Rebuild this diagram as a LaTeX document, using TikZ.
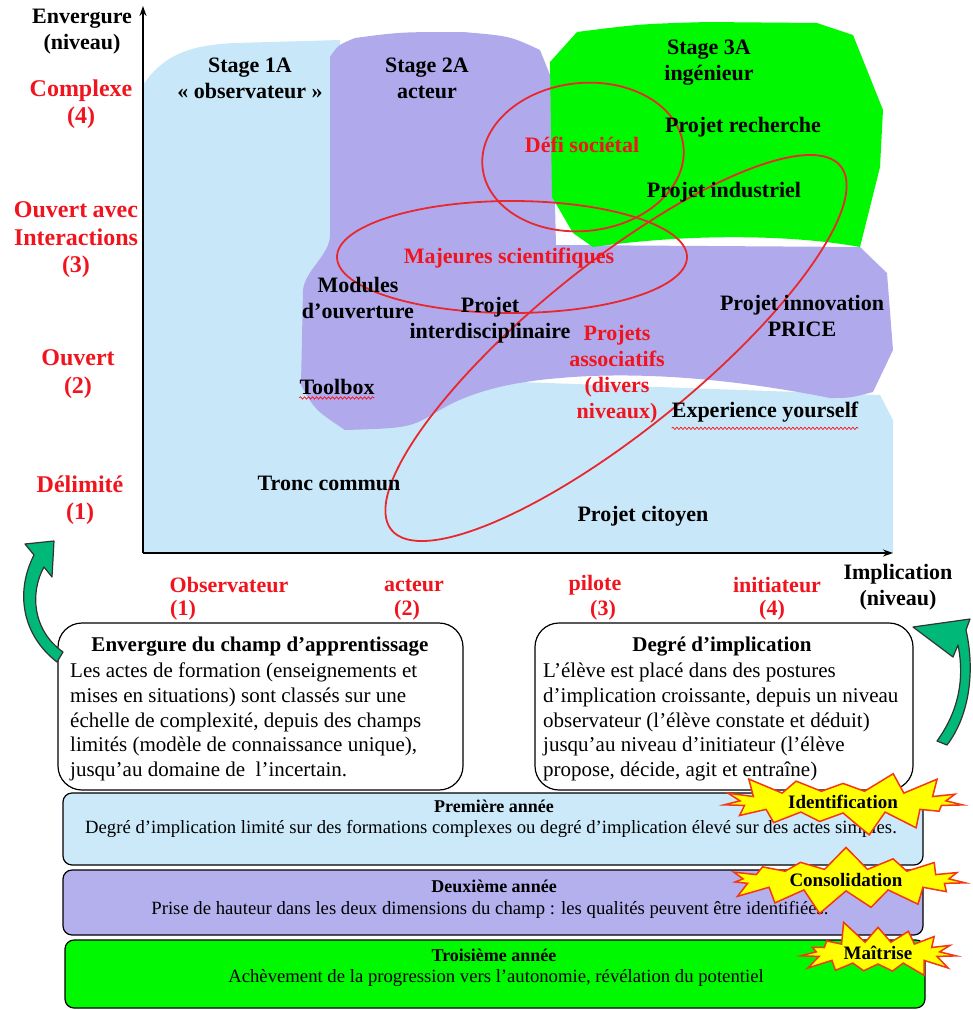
\documentclass[tikz,border=0pt]{standalone}
\usepackage{fontspec}
\setmainfont{Liberation Serif}
\usetikzlibrary{arrows.meta,shapes.symbols,decorations.pathmorphing}

\definecolor{zoneblue}{RGB}{200,232,250}
\definecolor{zonepurple}{RGB}{176,170,236}
\definecolor{zonegreen}{RGB}{0,248,0}
\definecolor{barblue}{RGB}{204,233,250}
\definecolor{barpurple}{RGB}{180,176,238}
\definecolor{labelred}{RGB}{240,20,30}
\definecolor{ringred}{RGB}{232,40,45}
\definecolor{arrowgreen}{RGB}{0,184,120}
\definecolor{burstyellow}{RGB}{255,255,0}
\definecolor{burstred}{RGB}{245,55,20}

\begin{document}
\begin{tikzpicture}[x=1pt,y=-1pt,
  lbl/.style={font=\fontsize{22}{26}\selectfont\bfseries, align=center, inner sep=0pt},
  redlbl/.style={lbl, text=labelred},
  ylbl/.style={redlbl, font=\fontsize{24}{27.5}\selectfont\bfseries},
  ring/.style={draw=ringred, line width=1.8pt},
  axis/.style={line width=1.5pt, -{Stealth[length=10pt,width=7pt]}},
  infobox/.style={draw=black, line width=1.2pt, rounded corners=24pt, fill=white, inner sep=0pt},
  boxtitle/.style={font=\fontsize{21}{24.5}\selectfont\bfseries, inner sep=0pt},
  boxtext/.style={font=\fontsize{21}{24.7}\selectfont, align=left, inner sep=0pt},
  yearbar/.style={draw=black, line width=1.2pt, rounded corners=9pt, inner sep=0pt},
  bartitle/.style={font=\fontsize{18}{22}\selectfont\bfseries, inner sep=0pt},
  bartext/.style={font=\fontsize{18.7}{22}\selectfont, inner sep=0pt},
  burst/.style={starburst, fill=burstyellow, draw=burstred, line width=1.5pt,
    starburst points=15, starburst point height=24pt, inner sep=1pt,
    font=\fontsize{19}{22}\selectfont\bfseries},
  spell/.style={draw=red, line width=0.6pt, decorate,
    decoration={snake, amplitude=1.2pt, segment length=4pt}},
  bigarrow/.style={fill=arrowgreen, draw=black!80, line width=1.2pt, line join=round}
]
\useasboundingbox (0,0) rectangle (973,1010);

% ---- zones of the learning field ----
\fill[zoneblue] (143,553) -- (143,85) .. controls (165,52) and (195,45) .. (235,43)
  -- (340,40) -- (340,420) -- (520,382) -- (880,395) -- (893,420) -- (893,553) -- cycle;
\fill[zonepurple] (330,57) .. controls (338,45) .. (355,38)
  .. controls (400,32) .. (463,32) .. controls (510,36) .. (540,50)
  -- (552,80) -- (556,245) -- (860,247) -- (887,273) -- (893,350) -- (873,392)
  .. controls (850,398) .. (830,398) .. controls (750,382) and (650,370) .. (560,378)
  .. controls (510,382) and (470,392) .. (440,410) .. controls (410,428) .. (345,430)
  .. controls (315,410) .. (301,385) -- (303,290) .. controls (305,270) and (330,255) .. (330,235)
  -- cycle;
\fill[zonegreen] (550,62) -- (577,32) .. controls (640,24) .. (707,22) -- (817,23)
  -- (853,35) -- (883,110) -- (880,167) -- (860,247)
  .. controls (800,236) and (700,232) .. (593,247) -- (573,233) -- (552,197) -- cycle;

% ---- groupings ----
\draw[ring, rotate around={6:(583,157)}] (583,157) ellipse [x radius=101, y radius=74];
\draw[ring] (512,257) ellipse [x radius=175, y radius=56];
\draw[ring, rotate around={39:(616,348)}] (616,348) ellipse [x radius=289, y radius=83];

% ---- axes ----
\coordinate (origin) at (143,553);
\coordinate (ytip) at (143,6);
\coordinate (xtip) at (893,553);
\draw[axis] (origin) -- (ytip);
\draw[axis] (origin) -- (xtip);

% ---- vertical scale ----
\node[lbl] (yname) at (82,32) {Envergure\\(niveau)};
\node[ylbl] (y4) at (81,104) {Complexe\\(4)};
\node[ylbl] (y3) at (76,240) {\makebox[5.17em][s]{Ouvert\hfill avec}\\Interactions\\(3)};
\node[ylbl] (y2) at (78,374) {Ouvert\\(2)};
\node[ylbl] (y1) at (80,500) {Délimité\\(1)};

% ---- horizontal scale ----
\node[redlbl] (x1a) at (229,585) {Observateur};
\node[redlbl] (x1b) at (183,610) {(1)};
\node[redlbl] (x2a) at (414,585) {acteur};
\node[redlbl] (x2b) at (407,610) {(2)};
\node[redlbl] (x3a) at (595,585) {pilote};
\node[redlbl] (x3b) at (603,610) {(3)};
\node[redlbl] (x4a) at (777,585) {initiateur};
\node[redlbl] (x4b) at (772,610) {(4)};
\node[lbl] (xname) at (898,587) {Implication\\(niveau)};

% ---- activities ----
\node[lbl] (stage1) at (250,78) {Stage 1A\\« observateur »};
\node[lbl] (stage2) at (427,78) {Stage 2A\\acteur};
\node[lbl] (stage3) at (709,63) {Stage 3A\\ingénieur};
\node[lbl] (precherche) at (743,127) {Projet recherche};
\node[lbl] (pindus) at (724,192) {Projet industriel};
\node[redlbl] (defi) at (582,145) {Défi sociétal};
\node[redlbl] (majeures) at (509,258) {Majeures scientifiques};
\node[lbl] (modules) at (358,298) {Modules\\d’ouverture};
\node[lbl] (pinter) at (490,320) {Projet\\interdisciplinaire};
\node[redlbl] (passo) at (617,374) {Projets\\associatifs\\(divers\\niveaux)};
\node[lbl] (pinno) at (802,316) {Projet innovation\\PRICE};
\node[lbl] (experience) at (765,412) {Experience yourself};
\node[lbl] (toolbox) at (337,387) {Toolbox};
\node[lbl] (tronc) at (329,483) {Tronc commun};
\node[lbl] (pcitoyen) at (643,516) {Projet citoyen};
\draw[spell] ([yshift=-3pt]toolbox.south west) -- ([yshift=-3pt]toolbox.south east);
\draw[spell] ([yshift=-6pt]experience.south west) -- ([yshift=-6pt]experience.south east);

% ---- explanation boxes ----
\node[infobox, minimum width=405pt, minimum height=167pt] (boxA) at (260.5,706.5) {};
\node[boxtitle] (boxAtitle) at (260,647) {Envergure du champ d’apprentissage};
\node[boxtext, anchor=west] (boxAtext) at (70,722) {Les actes de formation (enseignements et\\
mises en situations) sont classés sur une\\
échelle de complexité, depuis des champs\\
limités (modèle de connaissance unique),\\
jusqu’au domaine de\ \ l’incertain.};

\node[infobox, minimum width=378pt, minimum height=167pt] (boxB) at (724,706.5) {};
\node[boxtitle] (boxBtitle) at (722,647) {Degré d’implication};
\node[boxtext, anchor=west] (boxBtext) at (543,722) {L’élève est placé dans des postures\\
d’implication croissante, depuis un niveau\\
observateur (l’élève constate et déduit)\\
jusqu’au niveau d’initiateur (l’élève\\
propose, décide, agit et entraîne)};

% ---- curved arrows ----
\filldraw[bigarrow] (57,662) .. controls (22,635) and (15,592) .. (34,555) -- (25,544)
  -- (54,541) -- (52,577) -- (44,567) .. controls (30,592) and (32,630) .. (63,652) -- cycle;
\filldraw[bigarrow] (937,741) .. controls (958,712) and (965,680) .. (958,645) -- (953,657)
  -- (913,627) -- (970,619) -- (966,630) .. controls (975,670) and (970,715) .. (947,745) -- cycle;

% ---- yearly progression ----
\node[yearbar, fill=barblue, minimum width=860pt, minimum height=72pt] (bar1) at (493,829) {};
\node[bartitle] (bar1title) at (494,806) {Première année};
\node[bartext] (bar1text) at (491,829) {Degré d’implication limité sur des formations complexes ou degré d’implication élevé sur des actes simples.};

\node[yearbar, fill=barpurple, minimum width=860pt, minimum height=65pt] (bar2) at (493,902.5) {};
\node[bartitle] (bar2title) at (494,886) {Deuxième année};
\node[bartext] (bar2text) at (490,910) {Prise de hauteur dans les deux dimensions du champ : les qualités peuvent être identifiées.};

\node[yearbar, fill=zonegreen, minimum width=860pt, minimum height=68pt] (bar3) at (495,974) {};
\node[bartitle] (bar3title) at (494,955) {Troisième année};
\node[bartext] (bar3text) at (496,978) {Achèvement de la progression vers l’autonomie, révélation du potentiel};

% ---- milestones ----
\node[burst, random starburst=3, minimum width=255pt, minimum height=66pt] (ident) at (843,802) {Identification};
\node[burst, random starburst=7, minimum width=255pt, minimum height=60pt] (conso) at (846,880) {Consolidation};
\node[burst, random starburst=5, minimum width=172pt, minimum height=62pt] (maitrise) at (878,953) {Maîtrise};
\end{tikzpicture}
\end{document}
